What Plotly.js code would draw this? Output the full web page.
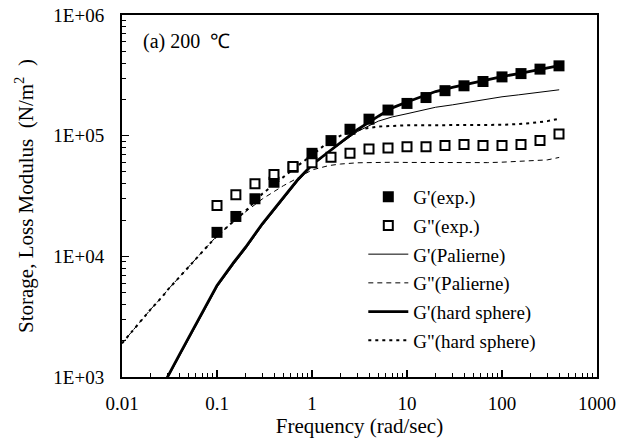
<!DOCTYPE html>
<html><head><meta charset="utf-8">
<script src="https://cdn.plot.ly/plotly-3.0.1.min.js"></script>
<style>body{margin:0;background:#fff}#c{width:631px;height:447px}</style>
</head><body><div id="c"></div>
<script>
// experimental frequencies (rad/s)
const freqExp = [0.1,0.158,0.251,0.398,0.631,1,1.585,2.512,3.981,6.31,10,15.85,25.12,39.81,63.1,100,158.5,251.2,398.1];
const gPrimeExp = [1.58e4,2.14e4,3.0e4,4.11e4,5.47e4,7.14e4,9.1e4,1.13e5,1.37e5,1.63e5,1.85e5,2.07e5,2.36e5,2.59e5,2.81e5,3.07e5,3.27e5,3.56e5,3.79e5];
const gDoubleExp = [2.64e4,3.24e4,3.99e4,4.76e4,5.55e4,5.95e4,6.62e4,7.14e4,7.76e4,7.91e4,8.11e4,8.11e4,8.27e4,8.43e4,8.27e4,8.27e4,8.43e4,9.1e4,1.03e5];

// model curves
const freqModel = [0.01,0.015,0.02,0.027,0.03,0.04,0.05,0.07,0.1,0.15,0.2,0.3,0.5,0.7,1,1.5,2,3,5,7,10,15,20,30,50,70,100,150,200,300,400];
const gPrimeHS = [null,null,null,850,1.0e3,1.52e3,2.1e3,3.42e3,5.73e3,8.9e3,1.19e4,1.86e4,3.1e4,4.27e4,5.75e4,7.4e4,8.7e4,1.12e5,1.45e5,1.7e5,1.9e5,2.14e5,2.32e5,2.51e5,2.75e5,2.88e5,3.09e5,3.27e5,3.43e5,3.63e5,3.8e5];
const gPrimePal = [null,null,null,820,0.97e3,1.47e3,2.03e3,3.3e3,5.55e3,8.6e3,1.15e4,1.8e4,3.0e4,4.15e4,5.6e4,7.3e4,8.6e4,1.08e5,1.32e5,1.43e5,1.52e5,1.64e5,1.72e5,1.8e5,1.93e5,2.0e5,2.1e5,2.18e5,2.25e5,2.33e5,2.4e5];
const gDoublePal = [1.9e3,2.78e3,3.63e3,4.7e3,5.24e3,6.7e3,8.2e3,1.09e4,1.48e4,1.95e4,2.34e4,2.99e4,3.85e4,4.44e4,5.2e4,5.65e4,5.82e4,5.96e4,6.03e4,6.02e4,6.0e4,5.98e4,5.96e4,5.96e4,5.96e4,5.98e4,6.03e4,6.1e4,6.17e4,6.3e4,6.6e4];
const gDoubleHS = [1.9e3,2.78e3,3.63e3,4.7e3,5.24e3,6.7e3,8.2e3,1.09e4,1.48e4,1.95e4,2.38e4,3.3e4,4.57e4,5.6e4,6.9e4,8.9e4,1.0e5,1.12e5,1.19e5,1.21e5,1.22e5,1.22e5,1.22e5,1.22e5,1.22e5,1.22e5,1.23e5,1.25e5,1.27e5,1.32e5,1.38e5];

const xTickVals = [0.01,0.1,1,10,100,1000];
const xTickText = ["0.01","0.1","1","10","100","1000"];
const yTickVals = [1e3,1e4,1e5,1e6];
const yTickText = ["1E+03","1E+04","1E+05","1E+06"];

// minor tick positions (2..9 within each decade)
function minorTicks(lo, hi){ const t=[]; for(let e=lo;e<hi;e++){ for(let k=2;k<=9;k++) t.push(k*Math.pow(10,e)); } return t; }

const F = 'Liberation Serif';
const traces = [
  {x:freqModel,y:gPrimePal,mode:'lines',name:"G'(Palierne)",legendrank:3,legendgroup:'c',line:{color:'black',width:1}},
  {x:freqModel,y:gDoublePal,mode:'lines',name:'G"(Palierne)',legendrank:4,legendgroup:'d',line:{color:'black',width:1,dash:'5px,4px'}},
  {x:freqModel,y:gPrimeHS,mode:'lines',name:"G'(hard sphere)",legendrank:5,legendgroup:'e',line:{color:'black',width:2.8}},
  {x:freqModel,y:gDoubleHS,mode:'lines',name:'G"(hard sphere)',legendrank:6,legendgroup:'f',line:{color:'black',width:2,dash:'3px,4px'}},
  {x:freqExp,y:gPrimeExp,mode:'markers',name:"G'(exp.)",legendrank:1,legendgroup:'a',marker:{symbol:'square',size:11,color:'black'}},
  {x:freqExp,y:gDoubleExp,mode:'markers',name:'G"(exp.)',legendrank:2,legendgroup:'b',marker:{symbol:'square',size:9,color:'white',line:{color:'black',width:2}}}
];
const layout = {
  width:631,height:447,
  margin:{l:122,r:34,t:15,b:70},
  paper_bgcolor:'white',plot_bgcolor:'white',
  font:{family:F,color:'black',size:18},
  showlegend:true,
  legend:{x:0.508,y:0.55,xanchor:'left',yanchor:'top',bgcolor:'rgba(0,0,0,0)',font:{family:F,size:19,color:'black'},tracegroupgap:1,itemwidth:40},
  xaxis:{type:'log',range:[-2,3],tickvals:xTickVals,ticktext:xTickText,ticks:'inside',ticklen:7,tickwidth:1.5,tickcolor:'black',
    showline:true,linewidth:2,linecolor:'black',mirror:true,showgrid:false,zeroline:false,
    tickfont:{family:F,size:19,color:'black'},ticklabelstandoff:8,
    minor:{tickmode:'array',tickvals:minorTicks(-2,3),ticks:'inside',ticklen:4,tickwidth:1,tickcolor:'black',showgrid:false},
    title:{text:'Frequency (rad/sec)',font:{family:F,size:21,color:'black'},standoff:6}},
  yaxis:{type:'log',range:[3,6],tickvals:yTickVals,ticktext:yTickText,ticks:'inside',ticklen:7,tickwidth:1.5,tickcolor:'black',
    showline:true,linewidth:2,linecolor:'black',mirror:true,showgrid:false,zeroline:false,
    tickfont:{family:F,size:19,color:'black'},ticklabelstandoff:12,
    minor:{tickmode:'array',tickvals:minorTicks(3,6),ticks:'inside',ticklen:4,tickwidth:1,tickcolor:'black',showgrid:false},
    title:{text:'Storage, Loss Modulus  (N/m<sup>2</sup>  )',font:{family:F,size:21,color:'black'},standoff:14}},
  annotations:[{xref:'paper',yref:'paper',x:0.04,y:0.965,xanchor:'left',yanchor:'top',showarrow:false,
    text:'(a) 200  ℃',font:{family:F,size:20,color:'black'}}]
};
function draw(){ return Plotly.newPlot('c',traces,layout,{staticPlot:true,displayModeBar:false}); }
if (document.fonts && document.fonts.load) {
  document.fonts.load('19px "Liberation Serif"').then(draw, draw);
} else { draw(); }
</script></body></html>
